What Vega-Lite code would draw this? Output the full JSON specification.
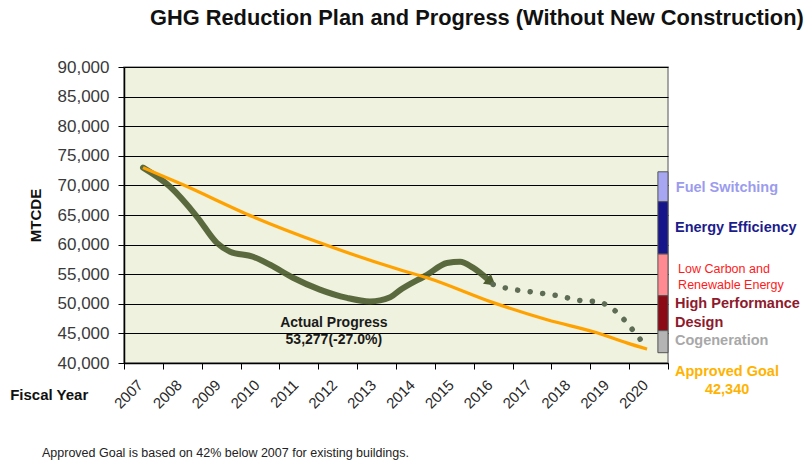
{
  "$schema": "https://vega.github.io/schema/vega-lite/v6.json",
  "width": 544,
  "height": 296,
  "autosize": {"type": "none"},
  "padding": {"left": 124, "top": 67, "right": 144, "bottom": 98},
  "background": "white",
  "title": {
    "text": "GHG Reduction Plan and Progress (Without New Construction)",
    "anchor": "start",
    "frame": "group",
    "dx": 26,
    "offset": 28,
    "font": "Liberation Sans",
    "fontSize": 21.8,
    "fontWeight": "bold",
    "color": "#111111"
  },
  "config": {
    "font": "Liberation Sans",
    "view": {"fill": "#EEF2DE", "stroke": "#8a8a8a", "strokeWidth": 1.5}
  },
  "resolve": {"scale": {"color": "independent"}},
  "datasets": {
    "actual": [
      {"year": 2006.99, "value": 73000},
      {"year": 2007.68, "value": 69800},
      {"year": 2008.38, "value": 64700},
      {"year": 2008.89, "value": 60300},
      {"year": 2009.23, "value": 58800},
      {"year": 2009.82, "value": 57950},
      {"year": 2010.26, "value": 56600},
      {"year": 2010.85, "value": 54400},
      {"year": 2011.54, "value": 52400},
      {"year": 2012.24, "value": 51000},
      {"year": 2012.83, "value": 50400},
      {"year": 2013.35, "value": 51100},
      {"year": 2013.6, "value": 52300},
      {"year": 2014.3, "value": 54900},
      {"year": 2014.81, "value": 56900},
      {"year": 2015.15, "value": 57100},
      {"year": 2015.48, "value": 56100},
      {"year": 2015.92, "value": 53800}
    ],
    "arrow": [
      {"year": 2015.95, "value": 53650}
    ],
    "projected": [
      {"year": 2016.0, "value": 53277},
      {"year": 2016.3, "value": 52700},
      {"year": 2017.0, "value": 52000},
      {"year": 2017.64, "value": 51400},
      {"year": 2018.31, "value": 50500},
      {"year": 2018.62, "value": 50400},
      {"year": 2018.95, "value": 49700},
      {"year": 2019.21, "value": 48400},
      {"year": 2019.44, "value": 46800},
      {"year": 2019.65, "value": 45100},
      {"year": 2019.86, "value": 43400}
    ],
    "goal": [
      {"year": 2006.99, "value": 73000},
      {"year": 2008.02, "value": 70100},
      {"year": 2009.82, "value": 64700},
      {"year": 2011.54, "value": 60300},
      {"year": 2013.6, "value": 55750},
      {"year": 2014.3, "value": 54400},
      {"year": 2016.0, "value": 50200},
      {"year": 2017.39, "value": 47300},
      {"year": 2018.67, "value": 45100},
      {"year": 2019.44, "value": 43400},
      {"year": 2019.96, "value": 42340}
    ],
    "wedge": [
      {"category": "Fuel Switching", "start": 2020.24, "end": 2020.5, "low": 67250, "high": 72300},
      {"category": "Energy Efficiency", "start": 2020.24, "end": 2020.5, "low": 58400, "high": 67250},
      {"category": "Low Carbon and Renewable Energy", "start": 2020.24, "end": 2020.5, "low": 51370, "high": 58400},
      {"category": "High Performance Design", "start": 2020.24, "end": 2020.5, "low": 45460, "high": 51370},
      {"category": "Cogeneration", "start": 2020.24, "end": 2020.5, "low": 41740, "high": 45460}
    ],
    "notes": [
      {"kind": "fuel", "text": "Fuel Switching", "year": 2020.7, "value": 69600},
      {"kind": "ee", "text": "Energy Efficiency", "year": 2020.68, "value": 62850},
      {"kind": "hp", "text": "High Performance", "year": 2020.68, "value": 50020},
      {"kind": "hp", "text": "Design", "year": 2020.68, "value": 46800},
      {"kind": "cog", "text": "Cogeneration", "year": 2020.68, "value": 43770},
      {"kind": "goal", "text": "Approved Goal", "year": 2020.68, "value": 38530},
      {"kind": "goal", "text": "42,340", "year": 2021.45, "value": 35500},
      {"kind": "lc", "text": "Low Carbon and", "year": 2020.76, "value": 55930},
      {"kind": "lc", "text": "Renewable Energy", "year": 2020.76, "value": 53230},
      {"kind": "progress", "text": "Actual Progress", "year": 2011.9, "value": 46800},
      {"kind": "progress", "text": "53,277(-27.0%)", "year": 2011.9, "value": 43940},
      {"kind": "fiscal", "text": "Fiscal Year", "year": 2003.57, "value": 34650},
      {"kind": "foot", "text": "Approved Goal is based on 42% below 2007 for existing buildings.", "year": 2004.39, "value": 24850}
    ]
  },
  "encoding": {
    "x": {
      "field": "year",
      "type": "quantitative",
      "scale": {"domain": [2006.5, 2020.5], "nice": false, "zero": false},
      "axis": {
        "title": null,
        "values": [2006.5, 2007.5, 2008.5, 2009.5, 2010.5, 2011.5, 2012.5, 2013.5, 2014.5, 2015.5, 2016.5, 2017.5, 2018.5, 2019.5, 2020.5],
        "labelExpr": "datum.value > 2020 ? '' : toString(datum.value + 0.5)",
        "labelOffset": 11,
        "labelAngle": -45,
        "labelAlign": "right",
        "labelBaseline": "top",
        "labelFontSize": 15,
        "labelColor": "#2a2a2a",
        "labelPadding": 8,
        "tickSize": 6,
        "tickColor": "#000000",
        "domainColor": "#000000",
        "domainWidth": 1.5,
        "grid": false,
        "labelFlush": false,
        "labelOverlap": false
      }
    },
    "y": {
      "field": "value",
      "type": "quantitative",
      "scale": {"domain": [40000, 90000], "nice": false, "zero": false},
      "axis": {
        "title": "MTCDE",
        "titleFontSize": 15,
        "titleFontWeight": "bold",
        "titleColor": "#111111",
        "titlePadding": 14,
        "values": [40000, 45000, 50000, 55000, 60000, 65000, 70000, 75000, 80000, 85000, 90000],
        "format": ",.0f",
        "labelFontSize": 17,
        "labelColor": "#3a3a3a",
        "labelPadding": 9,
        "tickSize": 6,
        "tickColor": "#000000",
        "domainColor": "#000000",
        "domainWidth": 1.5,
        "grid": true,
        "gridColor": "#000000",
        "gridWidth": 1.2
      }
    }
  },
  "layer": [
    {
      "data": {"name": "actual"},
      "mark": {"type": "line", "interpolate": "monotone", "color": "#4E5E30", "strokeWidth": 6, "strokeCap": "round", "opacity": 0.92}
    },
    {
      "data": {"name": "arrow"},
      "mark": {"type": "point", "shape": "triangle-right", "angle": 38, "size": 160, "filled": true, "color": "#4E5E30", "opacity": 1}
    },
    {
      "data": {"name": "projected"},
      "mark": {"type": "line", "interpolate": "monotone", "color": "#5E6C56", "strokeWidth": 5.5, "strokeCap": "round", "strokeDash": [0.1, 12.5]}
    },
    {
      "data": {"name": "goal"},
      "mark": {"type": "line", "interpolate": "monotone", "color": "#FFA200", "strokeWidth": 3.2}
    },
    {
      "data": {"name": "wedge"},
      "mark": {"type": "rect", "stroke": "#555555", "strokeWidth": 1},
      "encoding": {
        "x": {"field": "start", "type": "quantitative"},
        "x2": {"field": "end"},
        "y": {"field": "low", "type": "quantitative"},
        "y2": {"field": "high"},
        "color": {
          "field": "category",
          "type": "nominal",
          "legend": null,
          "scale": {
            "domain": ["Fuel Switching", "Energy Efficiency", "Low Carbon and Renewable Energy", "High Performance Design", "Cogeneration"],
            "range": ["#A6A6F2", "#16168A", "#FF8A92", "#8C0A16", "#B4B4B4"]
          }
        }
      }
    },
    {
      "data": {"name": "notes"},
      "transform": [{"filter": "indexof(['fuel','ee','hp','cog','goal'], datum.kind) >= 0"}],
      "mark": {"type": "text", "align": "left", "baseline": "middle", "fontSize": 14.5, "fontWeight": "bold"},
      "encoding": {
        "text": {"field": "text"},
        "color": {
          "field": "kind",
          "type": "nominal",
          "legend": null,
          "scale": {"domain": ["fuel", "ee", "hp", "cog", "goal"], "range": ["#9C9CEE", "#1C1C8C", "#8E1A2C", "#A8A8A8", "#FFB300"]}
        }
      }
    },
    {
      "data": {"name": "notes"},
      "transform": [{"filter": "datum.kind == 'lc'"}],
      "mark": {"type": "text", "align": "left", "baseline": "middle", "fontSize": 12.5, "color": "#FF1A1A"},
      "encoding": {"text": {"field": "text"}}
    },
    {
      "data": {"name": "notes"},
      "transform": [{"filter": "datum.kind == 'progress'"}],
      "mark": {"type": "text", "align": "center", "baseline": "middle", "fontSize": 14, "fontWeight": "bold", "color": "#1a1a1a"},
      "encoding": {"text": {"field": "text"}}
    },
    {
      "data": {"name": "notes"},
      "transform": [{"filter": "datum.kind == 'fiscal'"}],
      "mark": {"type": "text", "align": "left", "baseline": "middle", "fontSize": 15, "fontWeight": "bold", "color": "#111111"},
      "encoding": {"text": {"field": "text"}}
    },
    {
      "data": {"name": "notes"},
      "transform": [{"filter": "datum.kind == 'foot'"}],
      "mark": {"type": "text", "align": "left", "baseline": "middle", "fontSize": 12.5, "color": "#222222"},
      "encoding": {"text": {"field": "text"}}
    }
  ]
}
